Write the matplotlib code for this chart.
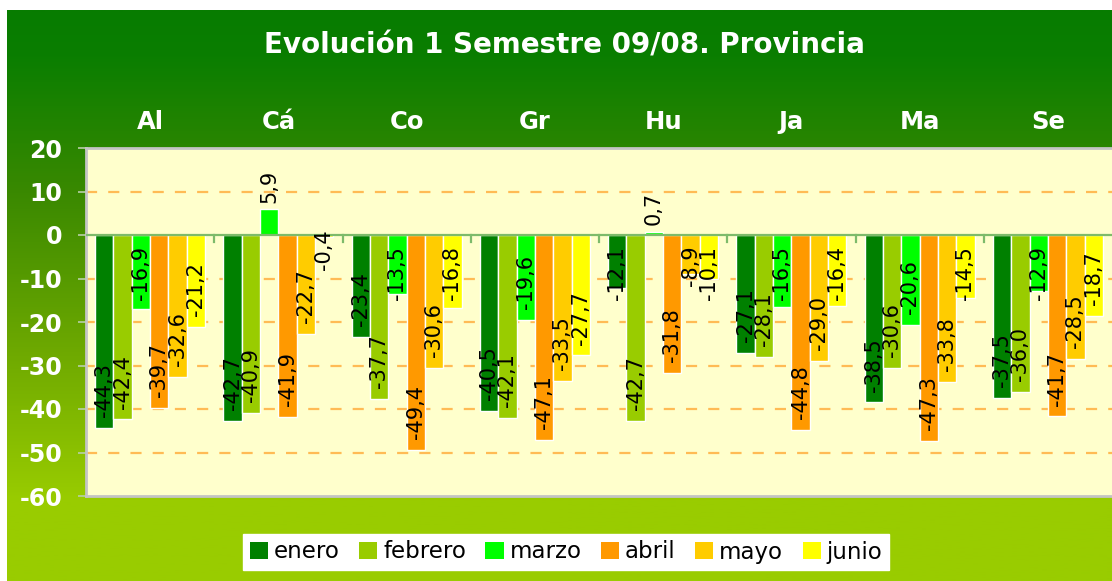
import numpy as np
import matplotlib
matplotlib.use("Agg")
import matplotlib.pyplot as plt
from matplotlib.colors import LinearSegmentedColormap
from matplotlib.transforms import blended_transform_factory

categories = ['Al', 'Cá', 'Co', 'Gr', 'Hu', 'Ja', 'Ma', 'Se']
enero = [-44.3, -42.7, -23.4, -40.5, -12.1, -27.1, -38.5, -37.5]
febrero = [-42.4, -40.9, -37.7, -42.1, -42.7, -28.1, -30.6, -36.0]
marzo = [-16.9, 5.9, -13.5, -19.6, 0.7, -16.5, -20.6, -12.9]
abril = [-39.7, -41.9, -49.4, -47.1, -31.8, -44.8, -47.3, -41.7]
mayo = [-32.6, -22.7, -30.6, -33.5, -8.9, -29.0, -33.8, -28.5]
junio = [-21.2, -0.4, -16.8, -27.7, -10.1, -16.4, -14.5, -18.7]
series_names = ['enero', 'febrero', 'marzo', 'abril', 'mayo', 'junio']
series_values = [enero, febrero, marzo, abril, mayo, junio]
colors = ['#008000', '#99cc00', '#00ff00', '#ff9900', '#ffcc00', '#ffff00']
yticks = [20, 10, 0, -10, -20, -30, -40, -50, -60]
title = 'Evolución 1 Semestre 09/08. Provincia'

W, H = 1112, 581
fig = plt.figure(figsize=(W / 100, H / 100), dpi=100)
fig.patch.set_facecolor('white')

# gradient background
bg = fig.add_axes([7 / W, 0, 1 - 7 / W, (H - 10) / H], zorder=0)
cmap = LinearSegmentedColormap.from_list(
    'g', [(0.0, '#077c00'), (0.08, '#0a7e00'), (0.32, '#3a8900'),
          (0.6, '#6ea900'), (0.86, '#99cc00'), (1.0, '#99cc00')])
grad = np.linspace(0, 1, 500).reshape(-1, 1)
bg.imshow(grad, aspect='auto', cmap=cmap, extent=[0, 1, 0, 1], origin='upper')
bg.set_axis_off()

ax = fig.add_axes([86 / W, 1 - 496 / H, 1 - 86 / W, (496 - 148) / H], zorder=1)
ax.set_facecolor('#ffffcc')

n = len(categories)
x = np.arange(n)
w = 0.143
for j, (name, vals, col) in enumerate(zip(series_names, series_values, colors)):
    pos = x + (j - 2.5) * w
    ax.bar(pos, vals, width=w, color=col, edgecolor='white', linewidth=1.0, label=name, zorder=3)

ax.set_xlim(-0.5, n - 0.5)
ax.set_ylim(-60, 20)

for g in [10, -10, -20, -30, -40, -50]:
    ax.axhline(g, color='#ffbb55', linewidth=1.6, dashes=(5, 5), zorder=1)
ax.axhline(0, color='#7dbb6a', linewidth=1.6, zorder=4)

# x ticks at group boundaries on zero line
for b in np.arange(0.5, n - 0.5, 1.0):
    ax.plot([b, b], [0, -1.6], color='#7dbb6a', linewidth=1.6, zorder=4, clip_on=False)

ax.set_xticks([])
ax.set_yticks(yticks)
ax.set_yticklabels([str(t) for t in yticks], color='white', fontweight='bold', fontsize=17)
ax.tick_params(axis='y', length=6, width=1.2, color='#b8cfa8', pad=11)

for s in ['top', 'left', 'bottom']:
    ax.spines[s].set_color('#c4c4c4')
    ax.spines[s].set_linewidth(2)
ax.spines['right'].set_visible(False)

# category labels above the plot
tr = blended_transform_factory(ax.transData, ax.transAxes)
for i, c in enumerate(categories):
    ax.text(i, 1.075, c, transform=tr, ha='center', va='center', color='white',
            fontweight='bold', fontsize=17.5)

fig.text(0.508, 1 - 45 / H, title, ha='center', va='center', color='white',
         fontweight='bold', fontsize=20)

# data labels
fig.canvas.draw()
renderer = fig.canvas.get_renderer()
pad = 2.5
for j, vals in enumerate(series_values):
    for i, v in enumerate(vals):
        lbl = f"{v:.1f}".replace('.', ',')
        xp = i + (j - 2.5) * w
        if v >= 0:
            ax.text(xp, v + 1.5, lbl, rotation=90, ha='center', va='bottom',
                    fontsize=15, color='black', zorder=5)
        else:
            t = ax.text(xp, v + pad, lbl, rotation=90, ha='center', va='bottom',
                        fontsize=15, color='black', zorder=5)
            bb = t.get_window_extent(renderer)
            top_data = ax.transData.inverted().transform((0, bb.y1))[1]
            if top_data > -2.5:
                t.set_va('top')
                t.set_y(1.3 if v > -3 else -2.5)

leg = fig.legend(loc='center', bbox_to_anchor=(566 / W, 1 - 552 / H), ncol=6,
                 frameon=True, fontsize=16.5, handlelength=0.8, handleheight=0.8,
                 handletextpad=0.25, columnspacing=0.85, borderpad=0.3,
                 fancybox=False, edgecolor='white', facecolor='white', framealpha=1)
for h in leg.legend_handles:
    h.set_edgecolor('none')

fig.savefig('out.png', dpi=100, facecolor=fig.get_facecolor())
